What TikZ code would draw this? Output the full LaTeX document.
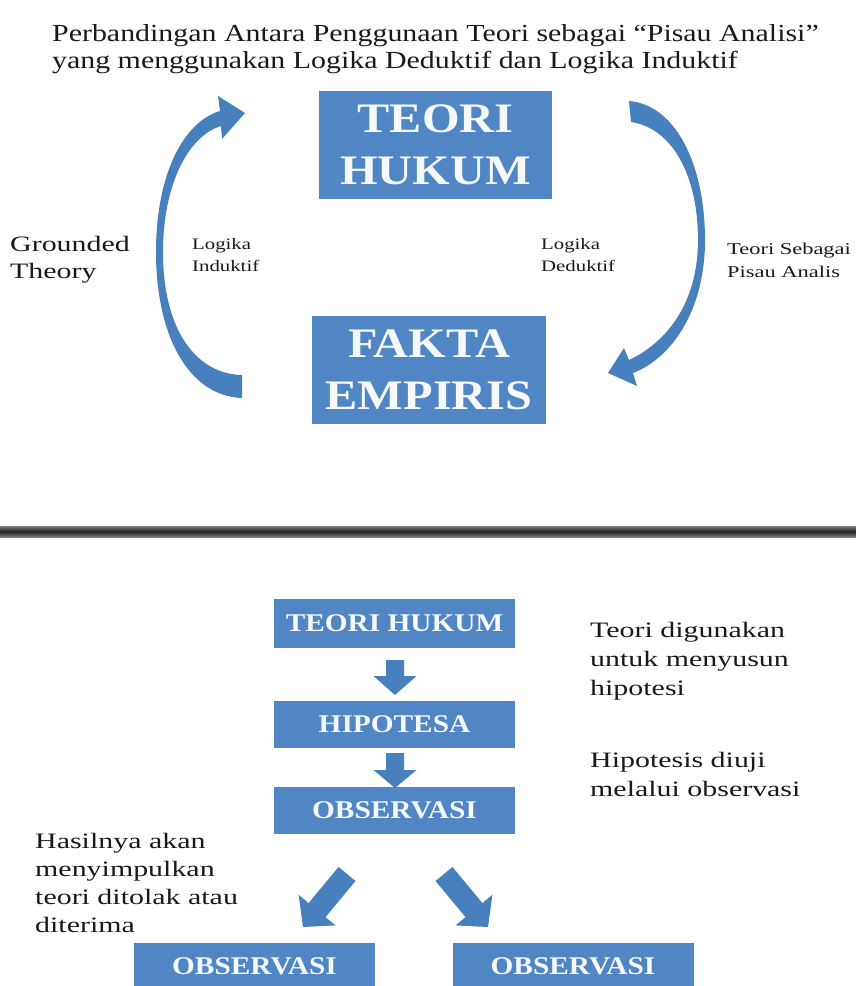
\documentclass[tikz,border=0pt]{standalone}
\usepackage{fontspec}
\setmainfont{Liberation Serif}
\newfontfamily\titlefont[FakeStretch=1.22]{Liberation Serif}
\newfontfamily\boxfont[FakeStretch=1.15]{Liberation Serif}
\newfontfamily\labfont[FakeStretch=1.36]{Liberation Serif}
\newfontfamily\smallfont[FakeStretch=1.3]{Liberation Serif}
\newfontfamily\notefont[FakeStretch=1.36]{Liberation Serif}
\usetikzlibrary{calc}
\definecolor{boxblue}{RGB}{79,134,195}
\definecolor{arrowblue}{RGB}{72,128,190}
\definecolor{ink}{RGB}{25,25,25}
\definecolor{boxtext}{RGB}{246,249,252}
\newcommand{\blockarr}[5]{% tail, tip, shaft half width, head half width, head length
  \coordinate (bahb) at ($(#2)!#5!(#1)$);
  \fill[arrowblue] ($(#1)!#3!90:(#2)$) -- ($(bahb)!#3!90:(#2)$) -- ($(bahb)!#4!90:(#2)$)
    -- (#2) -- ($(bahb)!#4!-90:(#2)$) -- ($(bahb)!#3!-90:(#2)$) -- ($(#1)!#3!-90:(#2)$) -- cycle;
}
\begin{document}
\begin{tikzpicture}[x=1pt,y=-1pt,
  titletext/.style={anchor=base west, inner sep=0, text=ink, font=\titlefont\fontsize{24.5}{28}\selectfont},
  biglab/.style={anchor=base west, inner sep=0, text=ink, font=\labfont\fontsize{22}{26}\selectfont},
  smalllab/.style={anchor=base west, inner sep=0, text=ink, font=\smallfont\fontsize{16}{19}\selectfont},
  sidelab/.style={anchor=base west, inner sep=0, text=ink, font=\labfont\fontsize{16.5}{19}\selectfont},
  note/.style={anchor=base west, inner sep=0, text=ink, font=\notefont\fontsize{22}{26}\selectfont},
  bigbox/.style={fill=boxblue, draw=none, inner sep=0, text=boxtext, align=center,
     font=\boxfont\bfseries\fontsize{42}{52}\selectfont},
  flowbox/.style={fill=boxblue, draw=none, inner sep=0, text=boxtext, minimum width=241pt,
     minimum height=48pt, font=\boxfont\bfseries\fontsize{25.5}{30}\selectfont}
]
\useasboundingbox (0,0) rectangle (856,986);
\fill[white] (0,0) rectangle (856,986);

% title
\node[titletext] (t1) at (52,41) {Perbandingan Antara Penggunaan Teori sebagai “Pisau Analisi”};
\node[titletext] (t2) at (52,68) {yang menggunakan Logika Deduktif dan Logika Induktif};

% top boxes
\node[bigbox, minimum width=233pt, minimum height=108pt] (teori) at (435.5,145) {TEORI\\HUKUM};
\node[bigbox, minimum width=234pt, minimum height=108pt] (fakta) at (429,370) {FAKTA\\EMPIRIS};

% left curved arrow (induktif, up)
\fill[arrowblue] (242,398) .. controls (188,396) and (156,335) .. (156,252)
  .. controls (156,175) and (183,122) .. (220,111) -- (218,96) -- (245,113) -- (222,139) -- (221,126)
  .. controls (188,136) and (163,185) .. (163,252)
  .. controls (163,330) and (196,374) .. (242,375) -- cycle;

% right curved arrow (deduktif, down)
\fill[arrowblue] (629,101) .. controls (676,105) and (705,165) .. (705,240)
  .. controls (705,310) and (672,358) .. (633,373) -- (637,386) -- (608,373) -- (624,348) -- (629,360)
  .. controls (665,343) and (698,305) .. (698,240)
  .. controls (698,175) and (672,128) .. (631,122) -- cycle;

% labels top
\node[biglab] (g1) at (10,251) {Grounded};
\node[biglab] (g2) at (10,278) {Theory};
\node[smalllab] (li1) at (192,249) {Logika};
\node[smalllab] (li2) at (192,271) {Induktif};
\node[smalllab] (ld1) at (541,249) {Logika};
\node[smalllab] (ld2) at (541,271) {Deduktif};
\node[sidelab] (ts1) at (727,254) {Teori Sebagai};
\node[sidelab] (ts2) at (727,277) {Pisau Analis};

% separator
\shade[top color=black!50, bottom color=black!50, middle color=black!88] (0,526) rectangle (856,537);

% flow boxes
\node[flowbox, minimum height=49pt] (th) at (394.5,623.5) {TEORI HUKUM};
\node[flowbox, minimum height=47pt] (hip) at (394.5,724.5) {HIPOTESA};
\node[flowbox, minimum height=47pt] (obs) at (394.5,810.5) {OBSERVASI};
\node[flowbox, minimum height=47pt] (obsl) at (254.5,966.5) {OBSERVASI};
\node[flowbox, minimum height=47pt] (obsr) at (573,966.5) {OBSERVASI};

% block arrows
\coordinate (a1t) at (395,660); \coordinate (a1h) at (395,695);
\coordinate (a2t) at (395,753); \coordinate (a2h) at (395,788);
\coordinate (a3t) at (347,874); \coordinate (a3h) at (303,927);
\coordinate (a4t) at (444,874); \coordinate (a4h) at (488,927);
\blockarr{a1t}{a1h}{9pt}{21.5pt}{19pt}
\blockarr{a2t}{a2h}{9pt}{21.5pt}{18pt}
\blockarr{a3t}{a3h}{11pt}{24pt}{22pt}
\blockarr{a4t}{a4h}{11pt}{24pt}{22pt}

% notes right
\node[note] (n1) at (590,637) {Teori digunakan};
\node[note] (n2) at (590,666) {untuk menyusun};
\node[note] (n3) at (590,695) {hipotesi};
\node[note] (h1) at (590,767) {Hipotesis diuji};
\node[note] (h2) at (590,796) {melalui observasi};

% notes left
\node[note] (r1) at (35,848) {Hasilnya akan};
\node[note] (r2) at (35,876) {menyimpulkan};
\node[note] (r3) at (35,904) {teori ditolak atau};
\node[note] (r4) at (35,932) {diterima};
\end{tikzpicture}
\end{document}
